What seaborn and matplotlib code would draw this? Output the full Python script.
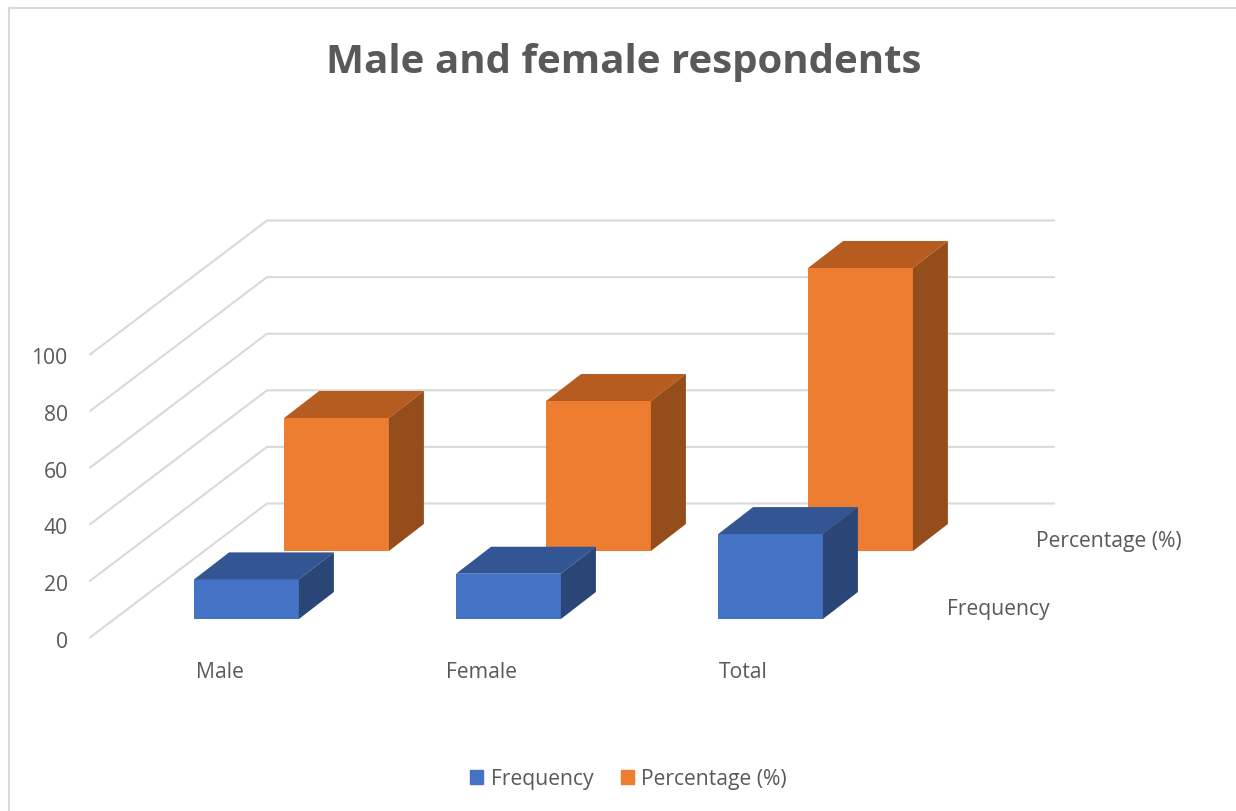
import matplotlib
matplotlib.use("Agg")
import matplotlib.pyplot as plt
from matplotlib.patches import Patch, Polygon
from matplotlib.transforms import Affine2D
import pandas as pd
import seaborn as sns

# chart values
categories = ["Male", "Female", "Total"]
frequency = [14, 16, 30]
percentage = [47, 53, 100]
y_ticks = [0, 20, 40, 60, 80, 100]
series_names = ["Frequency", "Percentage (%)"]

W, H = 1236, 811
PX_PER_UNIT = 2.83
TEXT = "#595959"
GRID = "#d9d9d9"
FONT = 15.2
BLUE = ("#4472c4", "#335593", "#294676")
ORANGE = ("#ed7d31", "#b65c20", "#964d1c")

sns.set_theme(style="white")
plt.rcParams["font.family"] = ["Open Sans", "DejaVu Sans"]

fig = plt.figure(figsize=(W / 100, H / 100), dpi=100)


def px_axes(left, right, bottom, top, z):
    # axes placed by pixel edges, y measured from the top of the picture
    ax = fig.add_axes([left / W, 1 - bottom / H, (right - left) / W, (bottom - top) / H], zorder=z)
    ax.patch.set_alpha(0)
    return ax


# back wall and floor, same value scale as the bars
wall = px_axes(90, 1054, 637.5, 219.5, 1)
wall.set_xlim(90, 1054)
wall.set_ylim(0, 418 / PX_PER_UNIT)
rise = 134 / PX_PER_UNIT
for v in y_ticks:
    wall.plot([90, 267, 1054], [v, v + rise, v + rise], color=GRID, lw=1.5, clip_on=False)
wall.set_yticks(y_ticks)
wall.set_yticklabels(y_ticks, fontsize=FONT, color=TEXT)
wall.tick_params(axis="y", length=0, pad=16)
wall.set_xticks([])
for lab in wall.get_yticklabels():
    lab.set_transform(lab.get_transform() + Affine2D().translate(0, -2))
sns.despine(ax=wall, left=True, bottom=True)


def bars3d(ax, values, cols):
    df = pd.DataFrame({"category": categories, "value": values})
    sns.barplot(data=df, x="category", y="value", color=cols[0], saturation=1, width=0.4,
                linewidth=0, edgecolor="none", ax=ax)
    ax.set_xlim(-0.5, 2.5)
    ax.set_ylim(0, 283 / PX_PER_UNIT)
    ax.set_xlabel("")
    ax.set_ylabel("")
    ax.set_xticks([])
    ax.set_yticks([])
    sns.despine(ax=ax, left=True, bottom=True)
    # depth of the boxes, 35 px across and 27 px up
    dx = 35 / 262
    dy = 27 / PX_PER_UNIT
    for bar in list(ax.patches):
        x, w, h = bar.get_x(), bar.get_width(), bar.get_height()
        ax.add_patch(Polygon([(x, h), (x + w, h), (x + w + dx, h + dy), (x + dx, h + dy)],
                             fc=cols[1], ec="none", clip_on=False))
        ax.add_patch(Polygon([(x + w, 0), (x + w, h), (x + w + dx, h + dy), (x + w + dx, dy)],
                             fc=cols[2], ec="none", clip_on=False))


ax_pct = px_axes(205.5, 991.5, 551, 268, 2)
bars3d(ax_pct, percentage, ORANGE)
ax_freq = px_axes(115.5, 901.5, 619, 336, 3)
bars3d(ax_freq, frequency, BLUE)

# category labels sit left of the bars
for i, c in enumerate(categories):
    ax_freq.annotate(c, (i, 0), xytext=(-27, -54), textcoords="offset pixels",
                     ha="center", va="center", fontsize=FONT, color=TEXT, annotation_clip=False)

# depth axis labels
fig.text(947 / W, 1 - 609 / H, series_names[0], fontsize=FONT, color=TEXT, ha="left", va="center")
fig.text(1036 / W, 1 - 541 / H, series_names[1], fontsize=FONT, color=TEXT, ha="left", va="center")

fig.text(624 / W, 1 - 62 / H, "Male and female respondents", fontsize=29, fontweight="bold",
         color=TEXT, ha="center", va="center")

handles = [Patch(color=BLUE[0], label=series_names[0]), Patch(color=ORANGE[0], label=series_names[1])]
fig.legend(handles=handles, loc="center", bbox_to_anchor=(628.5 / W, 1 - 779 / H), ncol=2, frameon=False,
           fontsize=FONT, labelcolor=TEXT, handlelength=0.62, handleheight=0.62, handletextpad=0.35,
           columnspacing=1.3)

# chart frame, only left and top edges show in the crop
fig.add_artist(plt.Line2D([9 / W, 9 / W, 1], [0, 1 - 8 / H, 1 - 8 / H], color=GRID, lw=1.5))

fig.savefig("out.png", dpi=100)
